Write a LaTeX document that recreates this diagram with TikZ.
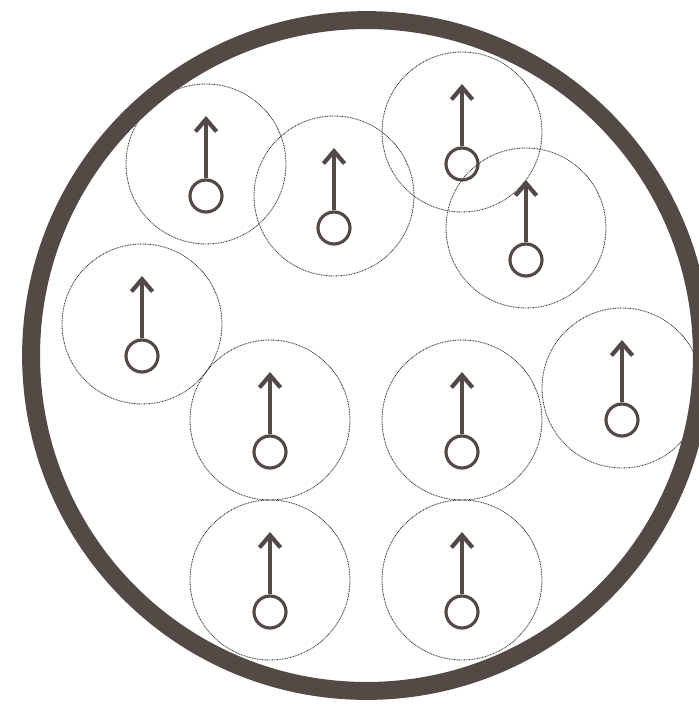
\documentclass[tikz,border=0pt]{standalone}
\usetikzlibrary{arrows.meta}
\definecolor{umber}{RGB}{83,74,69}

\begin{document}
\begin{tikzpicture}[
  x=0.02cm, y=-0.02cm,
  reach/.style={circle,draw=black!80,line width=0.5pt,dash pattern=on 0.5pt off 0.45pt,minimum size=3.2cm,inner sep=0pt},
  spin/.style={circle,draw=umber,line width=1.8pt,minimum size=0.64cm,inner sep=0pt},
  moment/.style={draw=umber,line width=1.8pt,-{Straight Barb[line width=2.4pt,length=7pt,width=12pt]}}
]
  \useasboundingbox (0,0) rectangle (698,704);

  % interaction ranges and spins
  \node[reach] (r1)  at (206,164) {}; \node[spin] (p1)  at (206,196) {}; \coordinate (t1)  at (206,116);
  \node[reach] (r2)  at (334,196) {}; \node[spin] (p2)  at (334,228) {}; \coordinate (t2)  at (334,148);
  \node[reach] (r3)  at (462,132) {}; \node[spin] (p3)  at (462,164) {}; \coordinate (t3)  at (462,84);
  \node[reach] (r4)  at (526,228) {}; \node[spin] (p4)  at (526,260) {}; \coordinate (t4)  at (526,180);
  \node[reach] (r5)  at (142,324) {}; \node[spin] (p5)  at (142,356) {}; \coordinate (t5)  at (142,276);
  \node[reach] (r6)  at (270,420) {}; \node[spin] (p6)  at (270,452) {}; \coordinate (t6)  at (270,372);
  \node[reach] (r7)  at (462,420) {}; \node[spin] (p7)  at (462,452) {}; \coordinate (t7)  at (462,372);
  \node[reach] (r8)  at (622,388) {}; \node[spin] (p8)  at (622,420) {}; \coordinate (t8)  at (622,340);
  \node[reach] (r9)  at (270,580) {}; \node[spin] (p9)  at (270,612) {}; \coordinate (t9)  at (270,532);
  \node[reach] (r10) at (462,580) {}; \node[spin] (p10) at (462,612) {}; \coordinate (t10) at (462,532);

  \draw[moment] (p1) -- (t1);
  \draw[moment] (p2) -- (t2);
  \draw[moment] (p3) -- (t3);
  \draw[moment] (p4) -- (t4);
  \draw[moment] (p5) -- (t5);
  \draw[moment] (p6) -- (t6);
  \draw[moment] (p7) -- (t7);
  \draw[moment] (p8) -- (t8);
  \draw[moment] (p9) -- (t9);
  \draw[moment] (p10) -- (t10);

  % container
  \node[circle,draw=umber,line width=10.2pt,minimum size=13.42cm,inner sep=0pt] (dish) at (366.5,355.5) {};
\end{tikzpicture}
\end{document}
